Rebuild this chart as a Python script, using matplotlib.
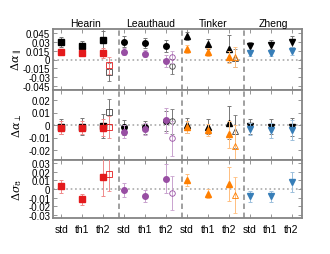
import matplotlib
matplotlib.use("Agg")
import matplotlib.pyplot as plt
import numpy as np

plt.rcParams['font.family'] = ['Liberation Sans', 'DejaVu Sans']
plt.rcParams['mathtext.fontset'] = 'dejavuserif'

groups = ["Hearin", "Leauthaud", "Tinker", "Zheng"]
cats = ["std", "th1", "th2"]
markers = ["s", "o", "^", "v"]
colors = ["#e41a1c", "#984ea3", "#ff7f00", "#377eb8"]
lightcolors = ["#f08a8b", "#c9a3cf", "#ffbf80", "#9bbedb"]

# alpha_par: black (full) and coloured series, per group (std, th1, th2)
apar_k = [[0.029, 0.023, 0.032], [0.030, 0.028, 0.023], [0.039, 0.026, 0.018], [0.023, 0.025, 0.030]]
apar_k_err = [[0.008, 0.008, 0.016], [0.009, 0.008, 0.010], [0.007, 0.008, 0.023], [0.007, 0.007, 0.009]]
apar_c = [[0.0123, 0.0107, 0.0107], [0.0133, 0.0095, -0.003], [0.018, 0.0123, 0.004], [0.011, 0.011, 0.014]]
apar_c_err = [[0.005, 0.005, 0.009], [0.006, 0.006, 0.010], [0.007, 0.007, 0.010], [0.005, 0.005, 0.007]]
# open th2 points (None for Zheng)
apar_k_open = [-0.021, -0.0117, 0.002, None]
apar_k_open_err = [0.015, 0.012, 0.015, None]
apar_c_open = [-0.010, 0.004, 0.004, None]
apar_c_open_err = [0.015, 0.010, 0.017, None]

# alpha_perp
aperp_k = [[-0.0013, -0.0013, -0.001], [-0.0019, -0.0019, 0.0035], [0.0, -0.0013, 0.002], [-0.001, -0.0013, -0.0016]]
aperp_k_err = [[0.006, 0.007, 0.0095], [0.006, 0.005, 0.008], [0.006, 0.006, 0.013], [0.006, 0.006, 0.007]]
aperp_c = [[-0.002, -0.002, -0.002], [-0.0053, -0.003, 0.004], [-0.0016, -0.004, -0.0075], [-0.003, -0.004, -0.0043]]
aperp_c_err = [[0.005, 0.005, 0.007], [0.005, 0.005, 0.010], [0.005, 0.005, 0.011], [0.005, 0.006, 0.008]]
aperp_k_open = [0.0105, 0.003, -0.005, None]
aperp_k_open_err = [0.010, 0.010, 0.013, None]
aperp_c_open = [-0.0017, -0.0107, -0.017, None]
aperp_c_open_err = [0.009, 0.014, 0.017, None]

# sigma8 (coloured only)
s8_c = [[0.003, -0.0118, 0.014], [-0.001, -0.008, 0.012], [0.011, -0.0055, 0.0055], [-0.0087, -0.0087, 0.008]]
s8_c_err = [[0.008, 0.0065, 0.022], [0.008, 0.007, 0.017], [0.007, 0.005, 0.020], [0.006, 0.006, 0.012]]
s8_c_open = [0.018, -0.0045, -0.0075, None]
s8_c_open_err = [0.020, 0.020, 0.021, None]

GRAY = "#858585"
W, H = 330, 255
fig = plt.figure(figsize=(3.3, 2.55), dpi=100)
left, right = 53 / W, 302 / W
edges = [30, 91, 161, 219]
axes = []
for i in range(3):
    top, bot = edges[i], edges[i + 1]
    ax = fig.add_axes([left, 1 - bot / H, right - left, (bot - top) / H])
    axes.append(ax)

x = np.arange(12)
off = 0.29


def draw(ax, k, kerr, c, cerr, ko, koerr, co, coerr):
    for g in range(4):
        xs = x[3 * g:3 * g + 3]
        if k is not None:
            ax.errorbar(xs, k[g], yerr=kerr[g], fmt=markers[g], color="black", ms=4,
                        ecolor="#777777", elinewidth=0.7, capsize=1.5, capthick=0.7, zorder=3)
        ax.errorbar(xs, c[g], yerr=cerr[g], fmt=markers[g], color=colors[g], ms=4,
                    ecolor=lightcolors[g], elinewidth=0.7, capsize=1.5, capthick=0.7, zorder=4)
        if ko is not None and ko[g] is not None:
            ax.errorbar(xs[2] + off, ko[g], yerr=koerr[g], fmt=markers[g], mfc="none",
                        mec="#444444", mew=0.6, ms=4, ecolor="#777777", elinewidth=0.7,
                        capsize=1.5, capthick=0.7, zorder=3)
        if co is not None and co[g] is not None:
            ax.errorbar(xs[2] + off, co[g], yerr=coerr[g], fmt=markers[g], mfc="none",
                        mec=colors[g], mew=0.6, ms=4, ecolor=lightcolors[g], elinewidth=0.7,
                        capsize=1.5, capthick=0.7, zorder=4)


draw(axes[0], apar_k, apar_k_err, apar_c, apar_c_err,
     apar_k_open, apar_k_open_err, apar_c_open, apar_c_open_err)
draw(axes[1], aperp_k, aperp_k_err, aperp_c, aperp_c_err,
     aperp_k_open, aperp_k_open_err, aperp_c_open, aperp_c_open_err)
draw(axes[2], None, None, s8_c, s8_c_err, None, None, s8_c_open, s8_c_open_err)

ylims = [(-0.051, 0.051), (-0.028, 0.028), (-0.034, 0.034)]
yticks = [[0.045, 0.03, 0.015, 0, -0.015, -0.03, -0.045],
          [0.02, 0.01, 0, -0.01, -0.02],
          [0.03, 0.02, 0.01, 0, -0.01, -0.02, -0.03]]
ylabels = [r"$\Delta\alpha_{\parallel}$", r"$\Delta\alpha_{\perp}$", r"$\Delta\sigma_8$"]

for i, ax in enumerate(axes):
    ax.set_xlim(-0.4, 11.5)
    ax.set_ylim(*ylims[i])
    ax.set_yticks(yticks[i])
    ax.set_yticklabels([("%g" % t) for t in yticks[i]])
    ax.axhline(0, color="#aaaaaa", ls=":", lw=1.2, zorder=1)
    for s in [2.75, 5.75, 8.75]:
        ax.axvline(s, color="#999999", ls=(0, (3, 2)), lw=1.3, zorder=1)
    for sp in ax.spines.values():
        sp.set_color(GRAY)
        sp.set_linewidth(1.3)
    ax.set_xticks(x)
    ax.tick_params(direction="in", length=3, width=0.6, colors=GRAY, labelcolor="black",
                   labelsize=7, top=True, right=True, pad=2)
    ax.set_ylabel(ylabels[i], fontsize=8, labelpad=2)
    ax.yaxis.set_label_coords(-0.115, 0.5)
    if i < 2:
        ax.set_xticklabels([])
    else:
        ax.set_xticklabels(cats * 4, fontsize=7.5)
        ax.tick_params(axis="x", pad=4)

bounds = [-0.4, 2.75, 5.75, 8.75, 11.5]
for g in range(4):
    axes[0].text((bounds[g] + bounds[g + 1]) / 2, 1.02, groups[g], fontsize=7.5,
                 ha="center", va="bottom", transform=axes[0].get_xaxis_transform())

fig.savefig("out.png", dpi=100)
